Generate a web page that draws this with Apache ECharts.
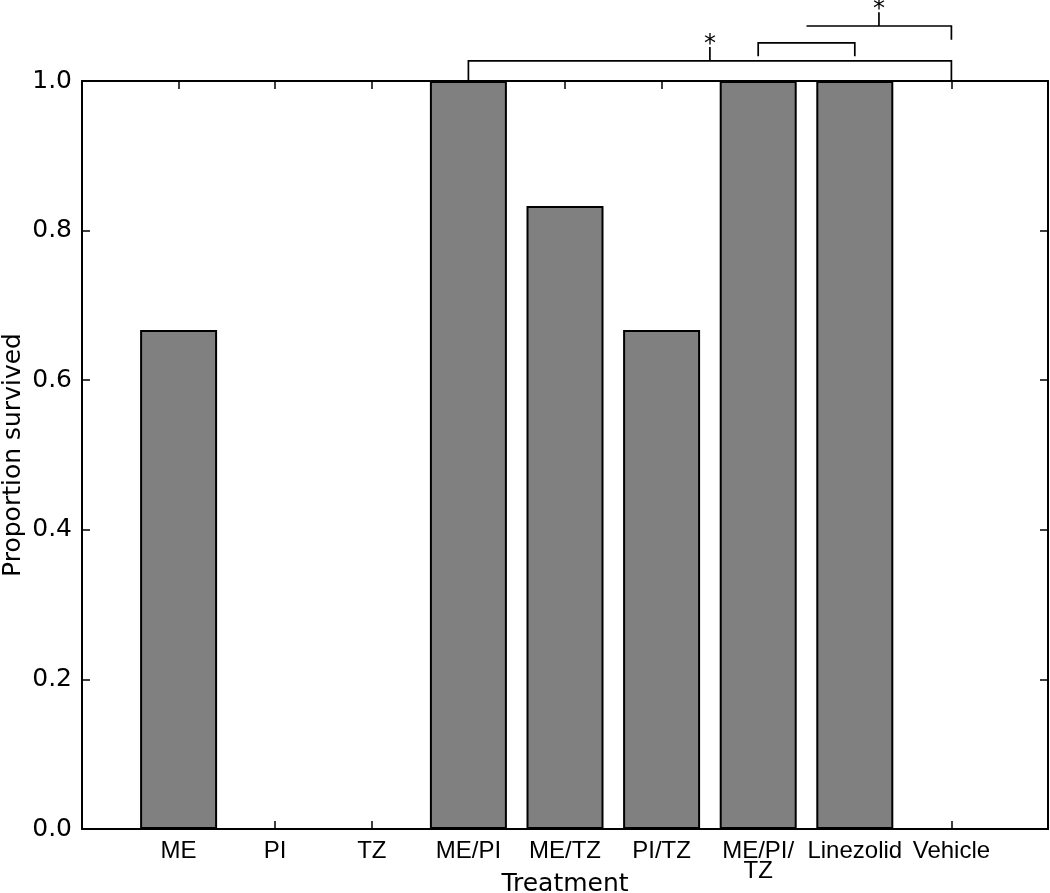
<!DOCTYPE html>
<html>
<head>
<meta charset="utf-8">
<script src="https://cdn.jsdelivr.net/npm/echarts@6/dist/echarts.min.js"></script>
<style>
html,body{margin:0;padding:0;background:#fff;}
#chart{width:1050px;height:893px;}
</style>
</head>
<body>
<div id="chart"></div>
<script>
// ---- data ----
const categories = ['ME', 'PI', 'TZ', 'ME/PI', 'ME/TZ', 'PI/TZ', 'ME/PI/TZ', 'Linezolid', 'Vehicle'];
const survived = [0.667, 0, 0, 1.0, 0.833, 0.667, 1.0, 1.0, 0];
const yTicks = [0.0, 0.2, 0.4, 0.6, 0.8, 1.0];

// significance brackets (category index / proportion units)
const bracketFrom = [3, 6, 6.5];
const bracketTo = [8, 7, 8];
const bracketTop = [1.027, 1.051, 1.0735];
const bracketLeftEnd = [1.0, 1.033, 1.0735];
const bracketRightEnd = [1.0, 1.033, 1.055];
const starX = [5.5, 7.25];
const starFrom = [1.027, 1.0735];
const starTo = [1.0455, 1.092];
const starText = ['*', '*'];

const FONT = 'DejaVu Sans';
const LABEL_FONT = 'Liberation Sans';

function wrapLabel(s) {
  if (s.length > 7 && s.indexOf('/') >= 0) {
    const k = s.lastIndexOf('/');
    return s.slice(0, k + 1) + '\n' + s.slice(k + 1);
  }
  return s;
}

const chart = echarts.init(document.getElementById('chart'), null, {renderer: 'canvas'});

const axisLineStyle = {color: '#000', width: 2};
const tickStyle = {color: '#000', width: 1.5};

const option = {
  animation: false,
  backgroundColor: '#fff',
  grid: {left: 82, right: 2, top: 81, bottom: 64, containLabel: false, outerBoundsMode: 'none'},
  xAxis: [
    {
      type: 'value', position: 'bottom', min: -1, max: categories.length, interval: 1,
      axisLine: {show: true, onZero: false, lineStyle: axisLineStyle},
      axisTick: {show: true, inside: true, length: 8, lineStyle: tickStyle},
      splitLine: {show: false},
      axisLabel: {
        show: true, margin: 12, color: '#000', fontFamily: LABEL_FONT, fontSize: 24, lineHeight: 20,
        showMinLabel: false, showMaxLabel: false, hideOverlap: false,
        formatter: function (v) {
          const i = Math.round(v);
          return (i >= 0 && i < categories.length && Math.abs(v - i) < 1e-6) ? wrapLabel(categories[i]) : '';
        }
      },
      name: 'Treatment', nameLocation: 'middle', nameGap: 43, nameMoveOverlap: false,
      nameTextStyle: {color: '#000', fontFamily: FONT, fontSize: 25, verticalAlign: 'top'}
    },
    {
      type: 'value', position: 'top', min: -1, max: categories.length, interval: 1,
      axisLine: {show: true, onZero: false, lineStyle: axisLineStyle},
      axisTick: {show: true, inside: true, length: 8, lineStyle: tickStyle},
      splitLine: {show: false},
      axisLabel: {show: false}
    }
  ],
  yAxis: [
    {
      type: 'value', position: 'left', min: yTicks[0], max: yTicks[yTicks.length - 1], interval: 0.2,
      axisLine: {show: true, onZero: false, lineStyle: axisLineStyle},
      axisTick: {show: true, inside: true, length: 8, lineStyle: tickStyle},
      splitLine: {show: false},
      axisLabel: {
        show: true, margin: 10, color: '#000', fontFamily: FONT, fontSize: 25,
        formatter: function (v) { return v.toFixed(1); }
      },
      name: 'Proportion survived', nameLocation: 'middle', nameGap: 56, nameMoveOverlap: false,
      nameTextStyle: {color: '#000', fontFamily: FONT, fontSize: 25}
    },
    {
      type: 'value', position: 'right', min: yTicks[0], max: yTicks[yTicks.length - 1], interval: 0.2,
      axisLine: {show: true, onZero: false, lineStyle: axisLineStyle},
      axisTick: {show: true, inside: true, length: 8, lineStyle: tickStyle},
      splitLine: {show: false},
      axisLabel: {show: false}
    }
  ],
  series: [
    {
      type: 'bar', xAxisIndex: 0, yAxisIndex: 0,
      data: survived.map(function (v, i) { return [i, v]; }),
      barWidth: 77,
      itemStyle: {color: '#808080', borderColor: '#000', borderWidth: 2},
      emphasis: {disabled: true}
    },
    {
      type: 'custom', xAxisIndex: 0, yAxisIndex: 0, clip: false, silent: true,
      data: bracketFrom.map(function (x1, i) {
        return [x1, bracketTo[i], bracketTop[i], bracketLeftEnd[i], bracketRightEnd[i]];
      }),
      encode: {x: [0, 1], y: [2, 3, 4]},
      renderItem: function (params, api) {
        const x1 = api.value(0), x2 = api.value(1);
        const pL = api.coord([x1, api.value(3)]);
        const pLT = api.coord([x1, api.value(2)]);
        const pRT = api.coord([x2, api.value(2)]);
        const pR = api.coord([x2, api.value(4)]);
        return {
          type: 'polyline',
          shape: {points: [pL, pLT, pRT, pR]},
          style: {stroke: '#000', lineWidth: 1.7, fill: null}
        };
      }
    },
    {
      type: 'custom', xAxisIndex: 0, yAxisIndex: 0, clip: false, silent: true,
      data: starX.map(function (x, i) { return [x, starFrom[i], starTo[i]]; }),
      encode: {x: 0, y: [1, 2]},
      renderItem: function (params, api) {
        const a = api.coord([api.value(0), api.value(1)]);
        const b = api.coord([api.value(0), api.value(2)]);
        return {
          type: 'group',
          children: [
            {type: 'line', shape: {x1: a[0], y1: a[1], x2: b[0], y2: b[1]},
             style: {stroke: '#000', lineWidth: 1.7}},
            {type: 'text', x: b[0], y: b[1] - 2,
             style: {text: starText[params.dataIndex], fill: '#000', font: '24px "DejaVu Sans"',
                     align: 'center', verticalAlign: 'middle'}}
          ]
        };
      }
    }
  ]
};

chart.setOption(option);
</script>
</body>
</html>
